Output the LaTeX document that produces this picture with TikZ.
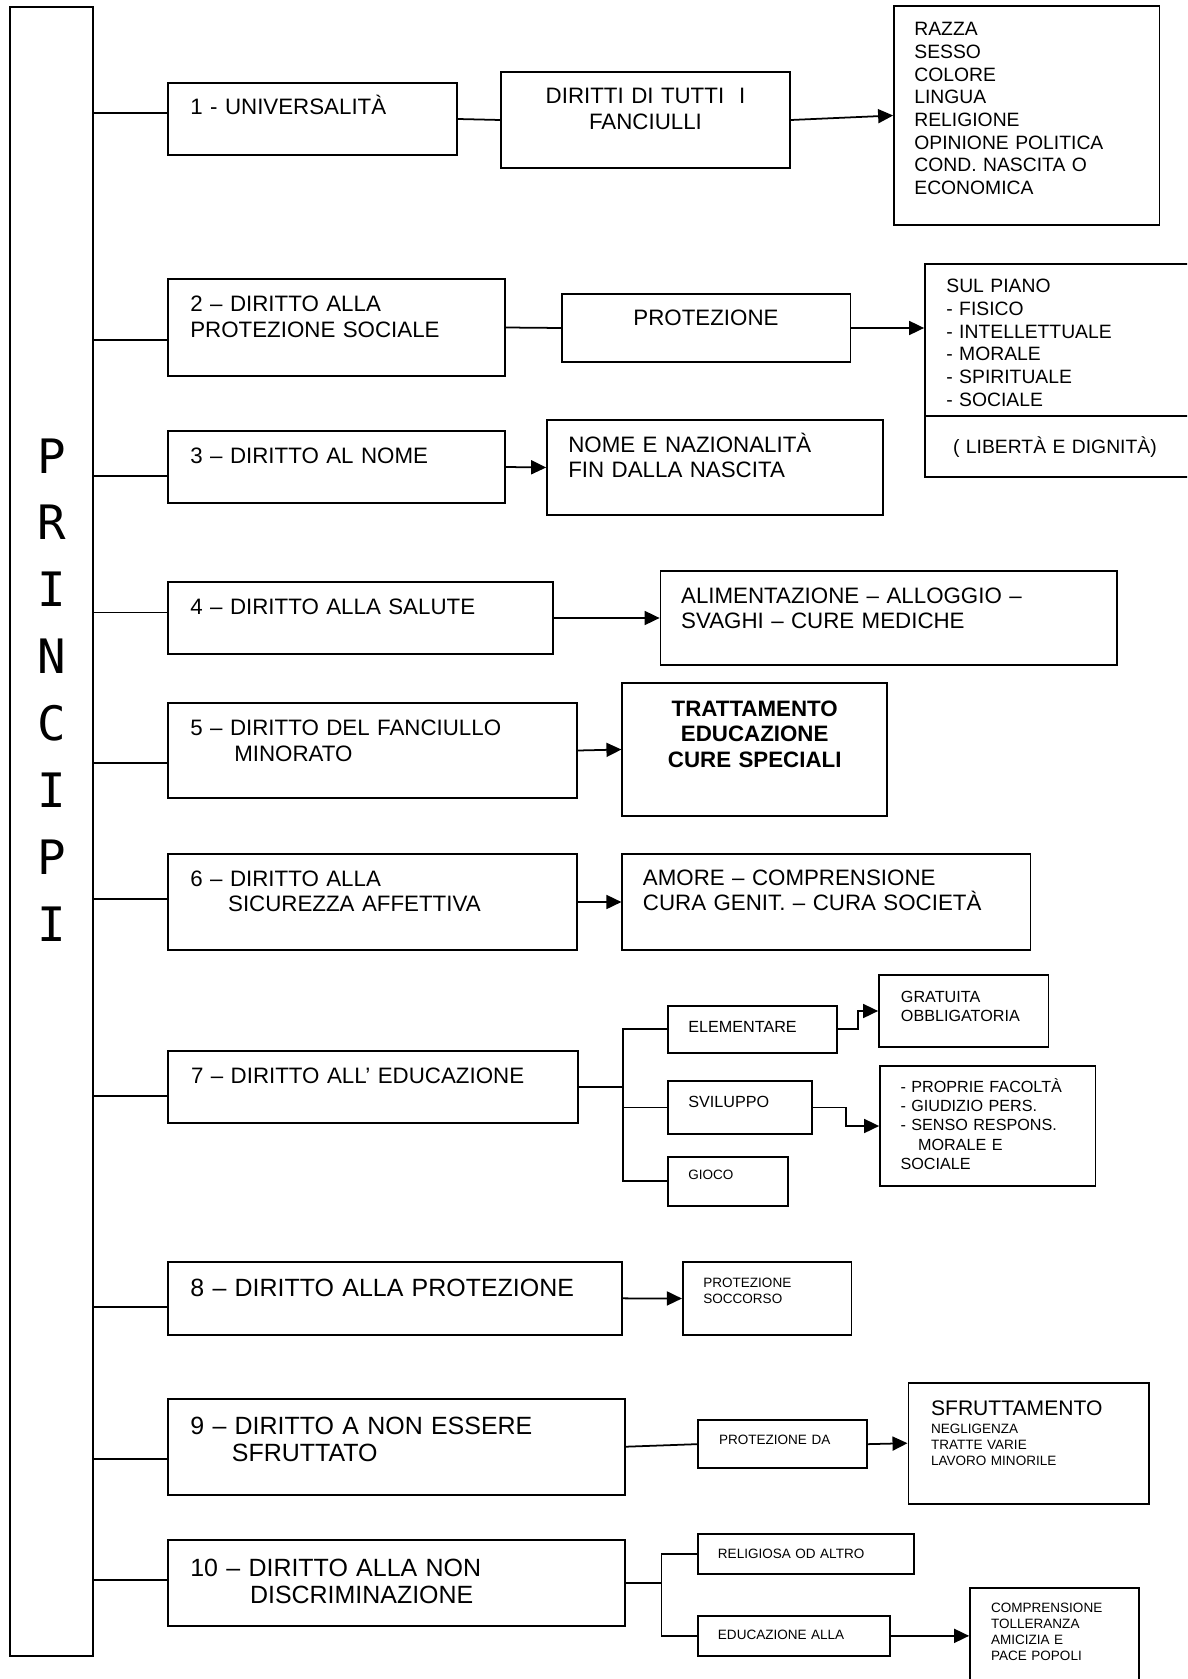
\documentclass[tikz,border=0pt]{standalone}
\usepackage{fontspec}
\setmainfont{Liberation Sans}
\newfontfamily\princfont{DejaVu Sans Mono}
\usetikzlibrary{arrows.meta, positioning, calc, fit}
\newcommand{\fmain}{\fontsize{12.7}{14.6}\selectfont}
\newcommand{\fbig}{\fontsize{14.2}{15.9}\selectfont}
\newcommand{\flist}{\fontsize{11}{12.9}\selectfont}
\newcommand{\fsub}{\fontsize{9.2}{11}\selectfont}
\newcommand{\fsmall}{\fontsize{7.7}{9.1}\selectfont}
\tikzset{
	frame/.style ={draw, line width=1pt, inner sep=0pt},
	txt/.style   ={anchor=base west, inner sep=0pt, text width=11cm, align=left},
	ctxt/.style  ={anchor=base, inner sep=0pt, align=center},
	link/.style  ={line width=1pt},
	arr/.style   ={line width=1pt, -{Triangle[length=0.3cm, width=0.28cm]}},
}

\begin{document}
\begin{tikzpicture}[x=0.02cm, y=-0.02cm]
	\useasboundingbox (0,0) rectangle (1187,1679);
	\clip (0,0) rectangle (1187,1679);
	% montante
	\node[frame, fit={(10,7) (93,1655.7)}] (spine) {};
	\node[anchor=base, inner sep=0pt, text width=2cm, align=center, font=\princfont\fontsize{27}{38.1}\selectfont] (title) at (52,473) {P\\R\\I\\N\\C\\I\\P\\I};
	% riquadri
	\node[frame, fit={(168,83) (457,155)}] (b1) {};
	\node[frame, fit={(501,72) (790,168)}] (dir) {};
	\node[frame, fit={(894,6) (1159.5,225)}] (razza) {};
	\node[frame, fit={(168,279) (505,376)}] (b2) {};
	\node[frame, fit={(562,294) (850.6,362)}] (prot) {};
	\node[frame, fit={(925,264) (1195,477)}] (piano) {};
	\node[frame, fit={(168,431) (505,503)}] (b3) {};
	\node[frame, fit={(547,420) (883,515)}] (nome) {};
	\node[frame, fit={(168,582) (553,654)}] (b4) {};
	\node[frame, fit={(660.5,571) (1116.7,665)}] (alim) {};
	\node[frame, fit={(168,703) (577,798)}] (b5) {};
	\node[frame, fit={(622.3,683) (887,816)}] (tratt) {};
	\node[frame, fit={(168,854) (577,950)}] (b6) {};
	\node[frame, fit={(622.3,854) (1030.6,950)}] (amore) {};
	\node[frame, fit={(168,1050.7) (577.7,1123)}] (b7) {};
	\node[frame, fit={(667.8,1005.7) (836.8,1052.7)}] (elem) {};
	\node[frame, fit={(879,975) (1048.5,1047)}] (grat) {};
	\node[frame, fit={(667.8,1081) (812,1134)}] (svil) {};
	\node[frame, fit={(880,1066) (1095.6,1186)}] (facolta) {};
	\node[frame, fit={(667.8,1156.7) (787.7,1205.7)}] (gioco) {};
	\node[frame, fit={(168,1262) (622,1334.7)}] (b8) {};
	\node[frame, fit={(682.8,1262.3) (851.6,1334.7)}] (socc) {};
	\node[frame, fit={(168,1398.7) (625,1494.7)}] (b9) {};
	\node[frame, fit={(698,1420) (866.8,1468.3)}] (protda) {};
	\node[frame, fit={(908.4,1382.7) (1149,1503.7)}] (sfrutt) {};
	\node[frame, fit={(168,1540) (625,1625.7)}] (b10) {};
	\node[frame, fit={(698,1534.3) (913.7,1574)}] (relig) {};
	\node[frame, fit={(698,1616) (890.2,1655.7)}] (edu) {};
	\node[frame, fit={(970,1588) (1139,1700)}] (pace) {};
	\draw[link] ($(piano.north west)!.7136!(piano.south west)$) -- ($(piano.north east)!.7136!(piano.south east)$);
	% testi
	\node[txt, font=\fmain] (b1t) at (190,115) {1 - UNIVERSALITÀ};
	\node[ctxt, font=\fmain, text width=5.6cm] (dirt) at (645.5,104) {DIRITTI DI TUTTI \ I\\FANCIULLI};
	\node[txt, font=\flist] (razzat) at (914,36) {RAZZA\\SESSO\\COLORE\\LINGUA\\RELIGIONE\\OPINIONE POLITICA\\COND. NASCITA O\\ECONOMICA};
	\node[txt, font=\fmain] (b2t) at (190,312) {2 – DIRITTO ALLA\\PROTEZIONE SOCIALE};
	\node[ctxt, font=\fmain, text width=5.6cm] (prott) at (706,326) {PROTEZIONE};
	\node[txt, font=\flist] (pianot) at (946,293) {SUL PIANO\\- FISICO\\- INTELLETTUALE\\- MORALE\\- SPIRITUALE\\- SOCIALE};
	\node[txt, font=\flist] (dignt) at (952.7,453) {( LIBERTÀ E DIGNITÀ)};
	\node[txt, font=\fmain] (b3t) at (190,463.6) {3 – DIRITTO AL NOME};
	\node[txt, font=\fmain] (nomet) at (568,452) {NOME E NAZIONALITÀ\\FIN DALLA NASCITA};
	\node[txt, font=\fmain] (b4t) at (190,614) {4 – DIRITTO ALLA SALUTE};
	\node[txt, font=\fmain] (alimt) at (680.8,603.3) {ALIMENTAZIONE – ALLOGGIO –\\SVAGHI – CURE MEDICHE};
	\node[txt, font=\fmain] (b5t) at (190,735.7) {5 – DIRITTO DEL FANCIULLO\\\hspace*{25pt}MINORATO};
	\node[ctxt, font=\fmain\bfseries, text width=5cm] (trattt) at (754.7,716) {TRATTAMENTO\\EDUCAZIONE\\CURE SPECIALI};
	\node[txt, font=\fmain] (b6t) at (190,886) {6 – DIRITTO ALLA\\\hspace*{21.5pt}SICUREZZA AFFETTIVA};
	\node[txt, font=\fmain] (amoret) at (642.6,885) {AMORE – COMPRENSIONE\\CURA GENIT. – CURA SOCIETÀ};
	\node[txt, font=\fmain] (b7t) at (190.7,1083.3) {7 – DIRITTO ALL’ EDUCAZIONE};
	\node[txt, font=\fsub] (elemt) at (688,1032.7) {ELEMENTARE};
	\node[txt, font=\fsub] (gratt) at (900.6,1002.3) {GRATUITA\\OBBLIGATORIA};
	\node[txt, font=\fsub] (svilt) at (688,1107.7) {SVILUPPO};
	\node[txt, font=\fsub] (facoltat) at (900.2,1092.3) {- PROPRIE FACOLTÀ\\- GIUDIZIO PERS.\\- SENSO RESPONS.\\\hspace*{10pt}MORALE E\\SOCIALE};
	\node[txt, font=\fsmall] (giocot) at (688,1179) {GIOCO};
	\node[txt, font=\fbig] (b8t) at (190,1296.7) {8 – DIRITTO ALLA PROTEZIONE};
	\node[txt, font=\fsmall] (socct) at (703,1287.3) {PROTEZIONE\\SOCCORSO};
	\node[txt, font=\fbig] (b9t) at (190,1434) {9 – DIRITTO A NON ESSERE\\\hspace*{23.7pt}SFRUTTATO};
	\node[txt, font=\fsmall] (protdat) at (718.7,1444.3) {PROTEZIONE DA};
	\node[txt, font=\fontsize{12}{14}\selectfont] (sfruttt) at (930.7,1415.7) {SFRUTTAMENTO};
	\node[txt, font=\fsmall] (sfruttl) at (930.7,1433.3) {NEGLIGENZA\\TRATTE VARIE\\LAVORO MINORILE};
	\node[txt, font=\fbig] (b10t) at (190,1576) {10 – DIRITTO ALLA NON\\\hspace*{34pt}DISCRIMINAZIONE};
	\node[txt, font=\fsmall] (religt) at (717.6,1558.3) {RELIGIOSA OD ALTRO};
	\node[txt, font=\fsmall] (edut) at (717.6,1639.3) {EDUCAZIONE ALLA};
	\node[txt, font=\fsmall] (pacet) at (990.7,1612.7) {COMPRENSIONE\\TOLLERANZA\\AMICIZIA E\\PACE POPOLI};
	% rami dal montante
	\foreach \b/\dy in {b1/-6, b2/12.5, b3/9, b4/-5.5, b5/12.5, b6/-3, b7/9, b8/9, b9/12.3, b10/-3}{
		\coordinate (k\b) at ($(\b.west)+(0,\dy)$);
		\draw[link] (k\b) -- (k\b -| spine.east);
	}
	% collegamenti
	\draw[link] (b1.east) -- (dir.west);
	\draw[arr] (dir.east) -- (razza.west);
	\draw[link] (b2.east) -- (prot.west);
	\draw[arr] (prot.east) -- (prot.east -| piano.west);
	\draw[arr] (b3.east) -- (nome.west);
	\draw[arr] (b4.east) -- (alim.west);
	\draw[arr] (b5.east) -- (tratt.west);
	\draw[arr] (b6.east) -- (amore.west);
	\coordinate (j7) at ($(b7.east)!.5!(elem.west |- b7.east)$);
	\draw[link] (b7.east) -- (j7);
	\draw[link] (elem.west) -| (j7) |- (gioco.west);
	\draw[link] (svil.west) -- (svil.west -| j7);
	\coordinate (e7) at ($(elem.east)!.5!(grat.west)$);
	\draw[arr] (elem.east) -| (e7) |- (grat.west);
	\coordinate (s7) at ($(svil.east)!.5!(facolta.west)$);
	\draw[arr] (svil.east) -| (s7) |- (facolta.west);
	\draw[arr] (b8.east) -- (socc.west);
	\draw[link] (b9.east) -- (protda.west);
	\draw[arr] (protda.east) -- (sfrutt.west);
	\coordinate (j10) at ($(b10.east)!.5!(relig.west |- b10.east)$);
	\draw[link] (b10.east) -- (j10);
	\draw[link] (relig.west) -| (j10) |- (edu.west);
	\draw[arr] (edu.east) -- (edu.east -| pace.west);
\end{tikzpicture}
\end{document}
